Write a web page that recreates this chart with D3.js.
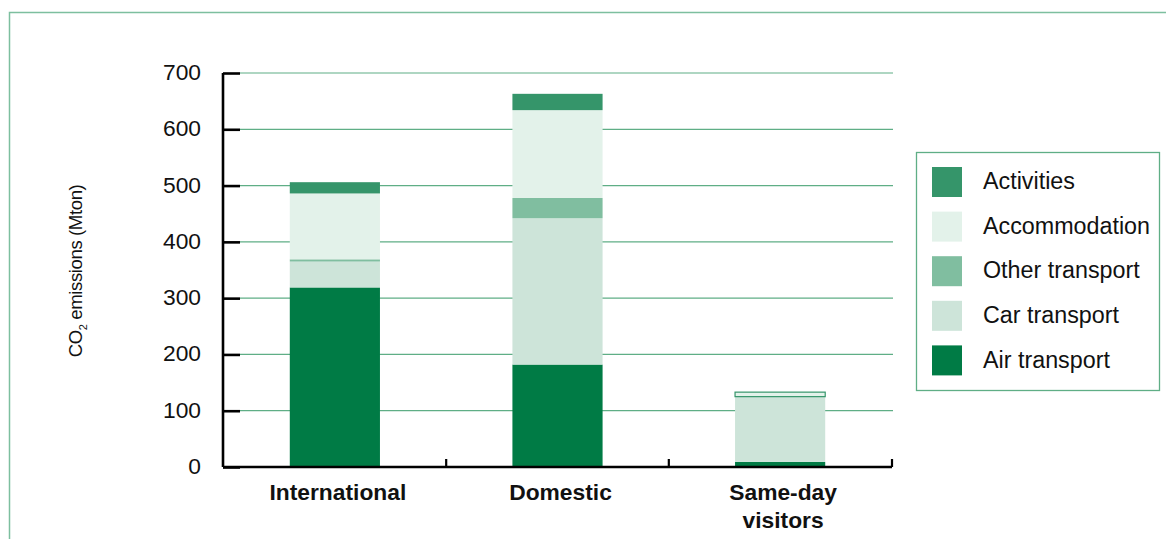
<!DOCTYPE html>
<html><head><meta charset="utf-8">
<script src="https://cdn.jsdelivr.net/npm/d3@7"></script>
<style>
body{margin:0;background:#fff;}
svg{display:block;font-family:"Liberation Sans",Arial,Helvetica,sans-serif;}
</style></head>
<body><svg id="chart" width="1166" height="539"></svg>
<script>
const categories = ["International", "Domestic", "Same-day visitors"];
const categoryLines = [["International"], ["Domestic"], ["Same-day", "visitors"]];
const seriesNames = ["Air transport", "Car transport", "Other transport", "Accommodation", "Activities"];
const airTransport   = [319, 182, 9];
const carTransport   = [46, 260, 116];
const otherTransport = [4, 36, 0];
const accommodation  = [117, 156, 8];
const activities     = [20, 29, 0];
const yTicks = [0, 100, 200, 300, 400, 500, 600, 700];
const colors = {"Air transport":"#007b45","Car transport":"#cde4d9","Other transport":"#80bea0","Accommodation":"#e3f2ea","Activities":"#35956a"};
const legendOrder = ["Activities", "Accommodation", "Other transport", "Car transport", "Air transport"];

const seriesValues = [airTransport, carTransport, otherTransport, accommodation, activities];
const table = categories.map((c, i) => {
  const row = {category: c};
  seriesNames.forEach((s, j) => row[s] = seriesValues[j][i]);
  return row;
});

const svg = d3.select("#chart");
const x0 = 223, x1 = 892, yTop = 73, yBot = 467;
const FS = 22.8;

// frame
svg.append("path").attr("d", `M9.5,539 V12.5 H1166`).attr("fill","none").attr("stroke","#7dbf9f").attr("stroke-width",1.5);

const x = d3.scaleBand().domain(categories).range([x0, x1]).paddingInner(0.595).paddingOuter(0.3);
const y = d3.scaleLinear().domain([0, 700]).range([yBot, yTop]);

// gridlines
svg.append("g").selectAll("line").data(yTicks.filter(t => t > 0)).join("line")
  .attr("x1", x0 + 17).attr("x2", x1 + 1)
  .attr("y1", d => y(d)).attr("y2", d => y(d))
  .attr("stroke", "#5fae86").attr("stroke-width", 1.2);

// bars
const stack = d3.stack().keys(seriesNames)(table);
const g = svg.append("g");
stack.forEach(layer => {
  g.selectAll(null).data(layer.filter(d => d[1] - d[0] > 0)).join("rect")
    .attr("x", d => x(d.data.category))
    .attr("width", x.bandwidth())
    .attr("y", d => y(d[1]))
    .attr("height", d => y(d[0]) - y(d[1]))
    .attr("fill", colors[layer.key])
    .attr("stroke", d => (layer.key === "Accommodation" && d[1] - d[0] < 15) ? "#35956a" : "none")
    .attr("stroke-width", 1.2);
});

// y axis
const yAxis = svg.append("g").attr("transform", `translate(${x0},0)`)
  .call(d3.axisRight(y).tickValues(yTicks).tickSize(17).tickFormat(""));
yAxis.select(".domain").attr("d", `M0,${yTop}V${yBot}`).attr("stroke","#000").attr("stroke-width",2.6).attr("fill","none");
yAxis.selectAll(".tick line").attr("stroke","#000").attr("stroke-width",2.6);
svg.append("g").selectAll("text").data(yTicks).join("text")
  .attr("x", 201).attr("y", d => y(d) + 1)
  .attr("text-anchor","end").attr("dominant-baseline","middle")
  .attr("font-size", FS).attr("fill","#111").text(d => d);

// x axis
const boundaries = [x0, (x(categories[0]) + x.bandwidth() + x(categories[1])) / 2, (x(categories[1]) + x.bandwidth() + x(categories[2])) / 2, x1];
svg.append("line").attr("x1", x0).attr("x2", x1).attr("y1", yBot).attr("y2", yBot).attr("stroke","#000").attr("stroke-width",2.6);
svg.append("g").selectAll("line").data(boundaries.slice(1)).join("line")
  .attr("x1", d => d).attr("x2", d => d).attr("y1", yBot).attr("y2", yBot - 8)
  .attr("stroke","#000").attr("stroke-width",2.2);
const xl = svg.append("g").selectAll("text").data(categories).join("text")
  .attr("x", d => x(d) + x.bandwidth() / 2 + 3).attr("y", 500)
  .attr("text-anchor","middle").attr("font-size", FS).attr("font-weight","bold").attr("fill","#111");
xl.each(function(d, i){
  const t = d3.select(this);
  categoryLines[i].forEach((ln, k) => t.append("tspan").attr("x", x(d) + x.bandwidth()/2 + 3).attr("dy", k === 0 ? 0 : 28).text(ln));
});

// y label
const yl = svg.append("text").attr("transform", "translate(82,271) rotate(-90)")
  .attr("text-anchor","middle").attr("font-size", 18.6).attr("letter-spacing", -0.4).attr("fill","#111");
yl.append("tspan").text("CO");
yl.append("tspan").attr("font-size", 11).attr("dy", 5).text("2");
yl.append("tspan").attr("dy", -5).text(" emissions (Mton)");

// legend
const lg = svg.append("g");
lg.append("rect").attr("x", 916.5).attr("y", 152.5).attr("width", 243).attr("height", 238)
  .attr("fill","#fff").attr("stroke","#5fae86").attr("stroke-width",1.3);
const items = lg.selectAll("g.item").data(legendOrder).join("g").attr("class","item")
  .attr("transform", (d, i) => `translate(932,${167 + i * 44.6})`);
items.append("rect").attr("width", 30).attr("height", 30).attr("fill", d => colors[d]);
items.append("text").attr("x", 51).attr("y", 16).attr("dominant-baseline","middle")
  .attr("font-size", 23.3).attr("fill","#111").text(d => d);
</script></body></html>
